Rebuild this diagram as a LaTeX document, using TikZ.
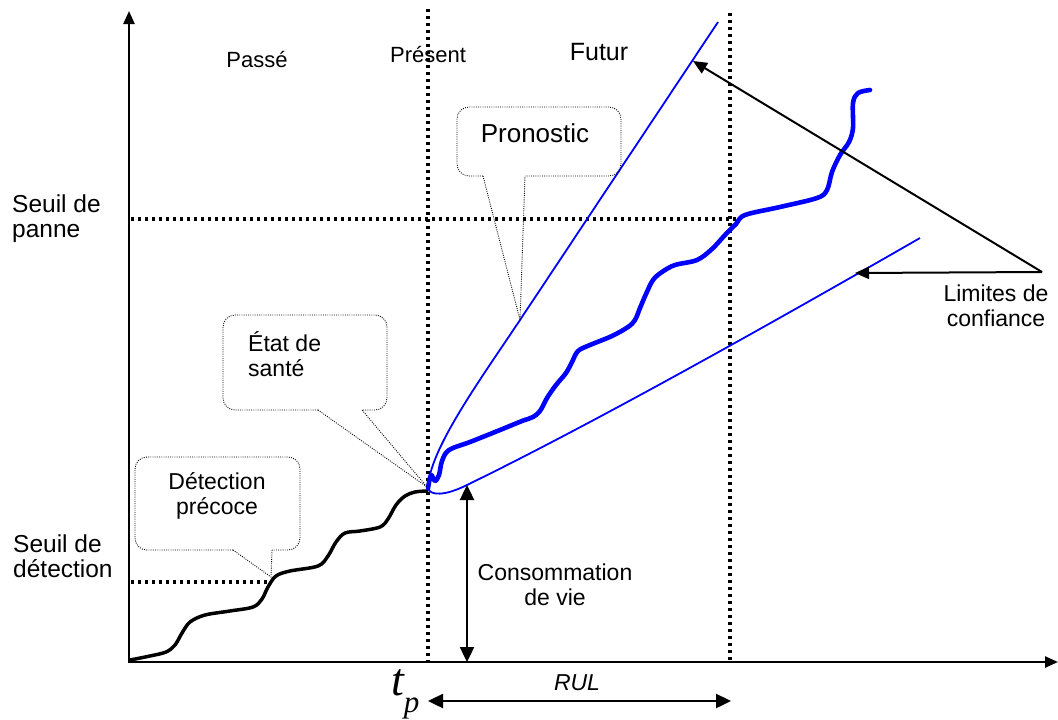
\documentclass[tikz,border=0pt]{standalone}
\usepackage{fontspec}
\setmainfont{Liberation Sans}
\newfontfamily\tpfont{Liberation Serif}
\usetikzlibrary{arrows.meta}
\definecolor{trace}{RGB}{0,0,255}

\begin{document}
\begin{tikzpicture}[x=1pt,y=-1pt,
  axisline/.style={line width=2.4pt,{Triangle[length=13pt,width=11pt]}-{Triangle[length=13pt,width=11pt]}},
  guide/.style={line width=3.3pt,dash pattern=on 3.3pt off 3.7pt},
  bubble/.style={line width=0.9pt,dash pattern=on 0.9pt off 1.3pt,rounded corners=12pt},
  pointer/.style={line width=0.9pt,dash pattern=on 0.9pt off 1.3pt},
  lbl/.style={inner sep=0pt,font=\fontsize{23}{25}\selectfont},
  side/.style={inner sep=0pt,font=\fontsize{24.5}{25}\selectfont,align=left,anchor=west},
  dbl/.style={line width=2.4pt,{Triangle[length=15pt,width=14pt]}-{Triangle[length=15pt,width=14pt]}},
  limarrow/.style={line width=2pt,-{Triangle[length=14pt,width=12pt]}},
  thin/.style={trace,line width=1.8pt},
  thick/.style={trace,line width=4.6pt,line cap=round,line join=round},
  past/.style={black,line width=3.5pt,line cap=round,line join=round}]

\useasboundingbox (0,0) rectangle (1058,720);

% key points
\coordinate (O) at (129,662);
\coordinate (ytop) at (129,11);
\coordinate (xend) at (1058,662);
\coordinate (tpPt) at (428,488);
\coordinate (lim) at (1042,272);
\coordinate (upTip) at (693,61);
\coordinate (lowTip) at (855,273);
\coordinate (cvTop) at (467,485);
\coordinate (cvBot) at (467,662);
\coordinate (rulL) at (428,701);
\coordinate (rulR) at (731,701);

% guides
\draw[guide] (428,9) -- (428,662);
\draw[guide] (730,13) -- (730,662);
\draw[guide] (131,219) -- (737,219);
\draw[guide] (131,582) -- (270,582);

% axes
\draw[axisline] (ytop) -- (O) -- (xend);

% past degradation
\draw[past] plot[smooth,tension=0.55] coordinates {
 (130,660) (150,656) (166,652) (175,645) (182,633) (190,622) (205,615)
 (230,611) (253,607) (262,599) (268,587) (276,576) (290,571) (318,566)
 (328,556) (336,542) (345,533) (360,531) (380,527) (388,519) (396,505)
 (405,496) (415,492) (427,491)};

% confidence bounds
\draw[thin] (tpPt) .. controls (429,450) and (480,380) .. (520,320) -- (718,22);
\draw[thin] (tpPt) .. controls (430,496) and (445,496) .. (467,485)
  .. controls (590,425) and (760,330) .. (920,238);

% predicted trajectory
\draw[thick] plot[smooth,tension=0.55] coordinates {
 (428,488) (431,475) (435,481) (439,475) (442,461) (449,450) (470,442)
 (500,430) (522,421) (533,417) (540,411) (547,398) (556,385) (566,373)
 (572,362) (578,351) (590,345) (612,336) (628,327) (635,320) (640,308)
 (646,294) (653,280) (662,272) (675,265) (697,260) (712,249) (725,235)
 (736,224) (745,215) (780,207) (817,198) (827,190) (832,172) (840,155)
 (849,142) (853,128) (853,103) (858,93) (870,90)};

% callouts
\coordinate (pronTip) at (520,320);
\coordinate (etatTip) at (427,487);
\coordinate (detTip) at (271,577);
\draw[bubble] (483,176) -- (457,176) -- (457,107) -- (621,107) -- (621,176) -- (525,176);
\draw[pointer] (483,176) -- (pronTip) -- (525,176);
\draw[bubble] (318,410) -- (223,410) -- (223,315) -- (387,315) -- (387,410) -- (362,410);
\draw[pointer] (318,410) -- (etatTip) -- (362,410);
\draw[bubble] (233,550) -- (135,550) -- (135,457) -- (300,457) -- (300,550) -- (272,550);
\draw[pointer] (233,550) -- (detTip) -- (272,550);

% arrows
\draw[limarrow] (lim) -- (upTip);
\draw[limarrow] (lim) -- (lowTip);
\draw[dbl] (cvTop) -- (cvBot);
\draw[dbl] (rulL) -- (rulR);

% labels
\node[lbl,font=\fontsize{22}{24}\selectfont] (passe) at (257,60) {Passé};
\node[lbl,font=\fontsize{22}{24}\selectfont] (present) at (428,55) {Présent};
\node[lbl,font=\fontsize{25}{27}\selectfont] (futur) at (599,52) {Futur};
\node[side] (panne) at (12,218.5) {Seuil de\\panne};
\node[side] (seuildet) at (13,556.5) {Seuil de\\détection};
\node[lbl,align=center] (detec) at (217,496) {Détection\\précoce};
\node[lbl,align=left,anchor=west] (etat) at (248,354) {État de\\santé};
\node[lbl,font=\fontsize{26}{28}\selectfont] (pron) at (535,133) {Pronostic};
\node[lbl,align=center] (conso) at (555,585) {Consommation\\de vie};
\node[lbl,align=center] (limites) at (996,305.5) {Limites de\\confiance};
\node[lbl,font=\fontsize{23}{25}\selectfont\itshape] (rul) at (577,683) {RUL};
\node[inner sep=0pt,anchor=base west] (tp) at (391,695)
  {\tpfont\itshape\fontsize{46}{46}\selectfont t\raisebox{-17pt}{\fontsize{31}{31}\selectfont p}};
\end{tikzpicture}
\end{document}
